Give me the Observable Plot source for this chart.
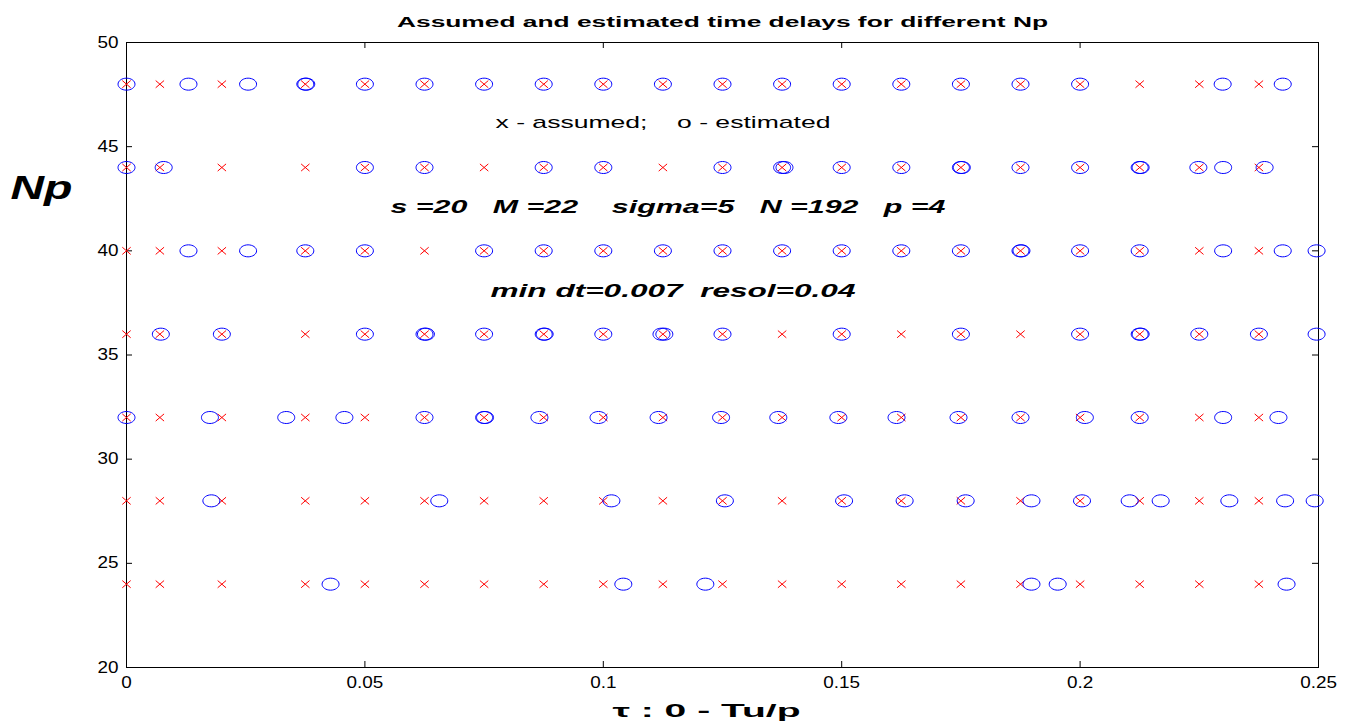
<!DOCTYPE html>
<html>
<head>
<meta charset="utf-8">
<script src="https://cdn.jsdelivr.net/npm/d3@7"></script>
<script src="https://cdn.jsdelivr.net/npm/@observablehq/plot@0.6"></script>
<style>
  html, body { margin: 0; padding: 0; background: #fff; }
  svg { display: block; }
</style>
</head>
<body>
<div id="chart"></div>
<script>
// ---- data ----
const npRows = [48, 44, 40, 36, 32, 28, 24];
const assumedDelays = [0, 0.007, 0.02, 0.0375, 0.05, 0.0625, 0.075, 0.0875, 0.1, 0.1125,
  0.125, 0.1375, 0.15, 0.1625, 0.175, 0.1875, 0.2, 0.2125, 0.225, 0.2375];
const est48 = [0, 0.013, 0.0255, 0.0375, 0.0377, 0.05, 0.0625, 0.075, 0.0875, 0.1, 0.1125,
  0.125, 0.1375, 0.15, 0.1625, 0.175, 0.1875, 0.2, 0.2299, 0.2425];
const est44 = [0, 0.0078, 0.05, 0.0625, 0.0875, 0.1, 0.125, 0.1375, 0.138, 0.15, 0.1625,
  0.175, 0.1752, 0.1875, 0.2, 0.2125, 0.2127, 0.2248, 0.23, 0.2387];
const est40 = [0.013, 0.0255, 0.0375, 0.05, 0.075, 0.0875, 0.1, 0.1125, 0.125, 0.1375, 0.15,
  0.1625, 0.175, 0.1875, 0.1877, 0.2, 0.2125, 0.23, 0.2425, 0.2496];
const est36 = [0.0072, 0.02, 0.05, 0.0625, 0.0628, 0.075, 0.0875, 0.0877, 0.1, 0.1122, 0.1128,
  0.125, 0.15, 0.175, 0.2, 0.2125, 0.2127, 0.225, 0.2375, 0.2496];
const est32 = [0, 0.0175, 0.0335, 0.0457, 0.0625, 0.075, 0.0752, 0.0866, 0.099, 0.1116,
  0.1247, 0.1367, 0.1493, 0.1615, 0.1745, 0.1875, 0.201, 0.2125, 0.23, 0.2416];
const est28 = [0.0178, 0.0656, 0.1017, 0.1255, 0.1505, 0.1632, 0.176, 0.1898, 0.2004,
  0.2104, 0.2169, 0.2313, 0.243, 0.2492];
const est24 = [0.0428, 0.1042, 0.1214, 0.1898, 0.1953, 0.2433];
const estimatedByRow = [est48, est44, est40, est36, est32, est28, est24];
const xTicks = [0, 0.05, 0.1, 0.15, 0.2, 0.25];
const yTicks = [20, 25, 30, 35, 40, 45, 50];

const titleText = "Assumed and estimated time delays for different Np";
const legendText = "x - assumed;    o - estimated";
const paramText1 = "s =20   M =22    sigma=5   N =192   p =4";
const paramText2 = "min dt=0.007  resol=0.04";
const xLabel = "τ : 0 - Tu/p";
const yLabel = "Np";

// ---- derived tables ----
const assumedData = npRows.flatMap(np => assumedDelays.map(t => ({t, np})));
const estData = npRows.flatMap((np, i) => estimatedByRow[i].map(t => ({t, np})));

// ---- layout ----
const W = 1347, H = 722;
const mL = 126, mR = 29, mT = 42, mB = 55;
const plotH = H - mT - mB;
const plotW = W - mL - mR;
const tickLen = 6;

const ellipse = {
  draw(ctx) {
    const rx = 8.5, ry = 6, k = 0.5523;
    ctx.moveTo(rx, 0);
    ctx.bezierCurveTo(rx, ry * k, rx * k, ry, 0, ry);
    ctx.bezierCurveTo(-rx * k, ry, -rx, ry * k, -rx, 0);
    ctx.bezierCurveTo(-rx, -ry * k, -rx * k, -ry, 0, -ry);
    ctx.bezierCurveTo(rx * k, -ry, rx, -ry * k, rx, 0);
    ctx.closePath();
  }
};
const cross = {
  draw(ctx) {
    const a = 4.2, b = 3.6;
    ctx.moveTo(-a, -b); ctx.lineTo(a, b);
    ctx.moveTo(-a, b); ctx.lineTo(a, -b);
  }
};

const font = "'Liberation Sans', Arial, Helvetica, sans-serif";

const chart = Plot.plot({
  width: W, height: H,
  marginLeft: mL, marginRight: mR, marginTop: mT, marginBottom: mB,
  style: {fontFamily: font, background: "#fff", overflow: "visible"},
  x: {domain: [0, 0.25]},
  y: {domain: [20, 50]},
  marks: [
    Plot.frame({stroke: "black", strokeWidth: 1}),
    // inward ticks (MATLAB style) on all four sides
    Plot.ruleX(xTicks, {x: d => d, insetTop: plotH - tickLen, stroke: "black"}),
    Plot.ruleX(xTicks, {x: d => d, insetBottom: plotH - tickLen, stroke: "black"}),
    Plot.ruleY(yTicks, {y: d => d, insetRight: plotW - tickLen, stroke: "black"}),
    Plot.ruleY(yTicks, {y: d => d, insetLeft: plotW - tickLen, stroke: "black"}),
    Plot.axisX(xTicks, {tickSize: 0, tickPadding: 9, fontSize: 16, tickFormat: d => String(d), label: null}),
    Plot.axisY(yTicks, {tickSize: 0, tickPadding: 8, fontSize: 16, tickFormat: d => String(d), label: null}),
    Plot.dot(assumedData, {x: "t", y: "np", symbol: cross, stroke: "#ff0000", strokeWidth: 1, fill: "none"}),
    Plot.dot(estData, {x: "t", y: "np", symbol: ellipse, stroke: "#0000ff", strokeWidth: 1, fill: "none"}),
    // title and labels
    Plot.text([titleText], {frameAnchor: "top", dy: -20, lineAnchor: "middle", fontSize: 14, fontWeight: "bold",
      text: d => d, fill: "black"}),
    Plot.text([xLabel], {frameAnchor: "bottom", dx: -16, dy: 43, lineAnchor: "middle", fontSize: 19, fontWeight: "bold",
      text: d => d, fill: "black"}),
    Plot.text([yLabel], {frameAnchor: "top-left", dx: 10 - mL, dy: 188 - mT, textAnchor: "start", lineAnchor: "middle",
      fontSize: 34, fontWeight: "bold", fontStyle: "italic", text: d => d, fill: "black"}),
    // annotations inside the axes
    Plot.text([legendText], {frameAnchor: "top-left", dx: 495 - mL, dy: 122 - mT, textAnchor: "start", lineAnchor: "middle",
      fontSize: 17, text: d => d, fill: "black"}),
    Plot.text([paramText1], {frameAnchor: "top-left", dx: 390 - mL, dy: 206 - mT, textAnchor: "start", lineAnchor: "middle",
      fontSize: 19, fontWeight: "bold", fontStyle: "italic", text: d => d, fill: "black"}),
    Plot.text([paramText2], {frameAnchor: "top-left", dx: 490 - mL, dy: 290 - mT, textAnchor: "start", lineAnchor: "middle",
      fontSize: 19, fontWeight: "bold", fontStyle: "italic", text: d => d, fill: "black"})
  ]
});
document.getElementById("chart").appendChild(chart);

// The reference rendering is horizontally stretched; stretch the texts to match.
const targets = new Map([
  [titleText, 651], [xLabel, 188], [yLabel, 62],
  [legendText, 335], [paramText1, 555], [paramText2, 365]
]);
chart.querySelectorAll("text").forEach(t => {
  const s = t.textContent;
  if (targets.has(s)) {
    t.setAttribute("textLength", targets.get(s));
    t.setAttribute("lengthAdjust", "spacingAndGlyphs");
  }
});
chart.querySelectorAll('g[aria-label="x-axis tick label"] text, g[aria-label="y-axis tick label"] text').forEach(t => {
  const len = t.getComputedTextLength();
  t.setAttribute("textLength", len * 1.18);
  t.setAttribute("lengthAdjust", "spacingAndGlyphs");
});
</script>
</body>
</html>
